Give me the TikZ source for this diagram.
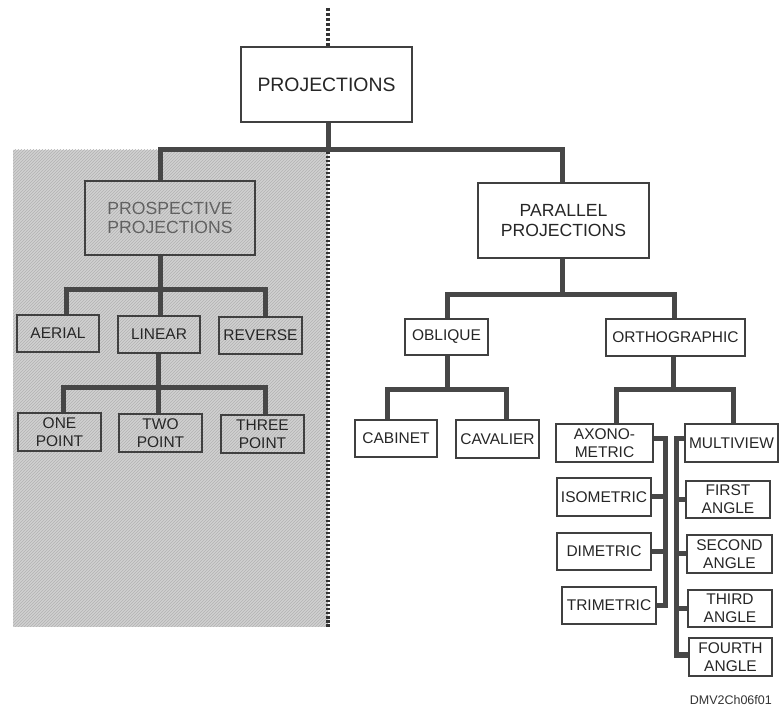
\documentclass[tikz,border=0pt]{standalone}
\usepackage{fontspec}
\setmainfont{Liberation Sans}
\usetikzlibrary{patterns}
\tikzset{
  box/.style={draw=black!75, line width=1.8pt, inner sep=0pt, align=center, text=black!85,
    font=\fontsize{15.5}{18}\selectfont},
  bigbox/.style={box, font=\fontsize{17.6}{19.5}\selectfont},
  wbox/.style={box, fill=white},
  conn/.style={draw=black!72, line width=5pt, line join=miter},
  dotline/.style={draw=black!80, line width=4pt, dash pattern=on 2.5pt off 1.5pt},
}
\begin{document}
\begin{tikzpicture}[x=1pt,y=-1pt]
\useasboundingbox (0,0) rectangle (780,708);
% shaded region
\fill[black!18] (13,150) rectangle (328,627);
\fill[pattern=north east lines, pattern color=black!30] (13,150) rectangle (328,627);
\coordinate (e1) at (328,152);
\coordinate (e2) at (328,627);
\draw[dotline] (e1) -- (e2);

% coordinates of junctions
\coordinate (top) at (328,8);
\coordinate (j1) at (328,150);
\coordinate (a1) at (160,150);
\coordinate (a2) at (562,150);
\coordinate (b0) at (160,290);
\coordinate (bL) at (66,290);
\coordinate (bR) at (265,290);
\coordinate (l0) at (158,388);
\coordinate (lL) at (63,388);
\coordinate (lR) at (265,388);
\coordinate (p0) at (562,295);
\coordinate (pL) at (447,295);
\coordinate (pR) at (674,295);
\coordinate (o0) at (447,390);
\coordinate (oL) at (387,390);
\coordinate (oR) at (506,390);
\coordinate (r0) at (673,390);
\coordinate (rL) at (616,390);
\coordinate (rR) at (733,390);
\coordinate (c1) at (665,439);
\coordinate (c4) at (665,606);
\coordinate (m1) at (676,439);
\coordinate (m5) at (676,655);

% nodes
\node[box, bigbox, fill=white, minimum width=171, minimum height=75, font=\fontsize{19.4}{21}\selectfont] (proj) at (326.5,84.5) {PROJECTIONS};
\node[box, bigbox, text=black!62, minimum width=170, minimum height=74] (pros) at (170,218) {PROSPECTIVE\\PROJECTIONS};
\node[box, bigbox, fill=white, minimum width=171, minimum height=75] (par) at (563.5,220.5) {PARALLEL\\PROJECTIONS};

\node[box, minimum width=82, minimum height=37] (aerial) at (58,333.5) {AERIAL};
\node[box, minimum width=82, minimum height=37] (linear) at (159,334.5) {LINEAR};
\node[box, minimum width=83, minimum height=37] (reverse) at (260.5,335.5) {REVERSE};
\node[box, minimum width=83, minimum height=38] (one) at (59.5,432) {ONE\\POINT};
\node[box, minimum width=83, minimum height=38] (two) at (160.5,433) {TWO\\POINT};
\node[box, minimum width=83, minimum height=38] (three) at (262.5,434) {THREE\\POINT};

\node[wbox, minimum width=83, minimum height=36] (oblique) at (446.5,337) {OBLIQUE};
\node[wbox, minimum width=139, minimum height=37] (ortho) at (675.5,337.5) {ORTHOGRAPHIC};
\node[wbox, minimum width=82, minimum height=37] (cabinet) at (396,438.5) {CABINET};
\node[wbox, minimum width=83, minimum height=38] (cavalier) at (497.5,439) {CAVALIER};
\node[wbox, minimum width=97, minimum height=38] (axono) at (604.5,443) {AXONO-\\METRIC};
\node[wbox, minimum width=93, minimum height=38] (multi) at (731.5,443) {MULTIVIEW};
\node[wbox, minimum width=94, minimum height=38] (iso) at (604,497) {ISOMETRIC};
\node[wbox, minimum width=94, minimum height=37] (dim) at (604,551.5) {DIMETRIC};
\node[wbox, minimum width=94, minimum height=37] (tri) at (609,605.5) {TRIMETRIC};
\node[wbox, minimum width=84, minimum height=37] (first) at (728,499.5) {FIRST\\ANGLE};
\node[wbox, minimum width=85, minimum height=38] (second) at (729.5,554) {SECOND\\ANGLE};
\node[wbox, minimum width=84, minimum height=37] (third) at (730,608.5) {THIRD\\ANGLE};
\node[wbox, minimum width=83, minimum height=38] (fourth) at (730.5,657) {FOURTH\\ANGLE};

\node[anchor=east, inner sep=0pt, text=black!80, font=\fontsize{12.5}{14}\selectfont] (code) at (772,700) {DMV2Ch06f01};

% connectors
\draw[dotline, dash pattern=on 3pt off 2pt, line width=3.5pt] (top) -- (proj.north -| top);
\draw[conn] (proj.south -| j1) -- (j1);
\draw[conn] (a1 |- pros.north) -- (a1) -- (a2) -- (a2 |- par.north);

\draw[conn] (b0 |- pros.south) -- (b0) -- (b0 |- linear.north);
\draw[conn] (bL |- aerial.north) -- (bL) -- (bR) -- (bR |- reverse.north);

\draw[conn] (l0 |- linear.south) -- (l0) -- (l0 |- two.north);
\draw[conn] (lL |- one.north) -- (lL) -- (lR) -- (lR |- three.north);

\draw[conn] (p0 |- par.south) -- (p0);
\draw[conn] (pL |- oblique.north) -- (pL) -- (pR) -- (pR |- ortho.north);

\draw[conn] (o0 |- oblique.south) -- (o0);
\draw[conn] (oL |- cabinet.north) -- (oL) -- (oR) -- (oR |- cavalier.north);

\draw[conn] (r0 |- ortho.south) -- (r0);
\draw[conn] (rL |- axono.north) -- (rL) -- (rR) -- (rR |- multi.north);

\draw[conn] (axono.east |- c1) -- (c1) -- (c4) -- (tri.east |- c4);
\draw[conn] (iso.east) -- (iso.east -| c1);
\draw[conn] (dim.east) -- (dim.east -| c1);

\draw[conn] (multi.west |- m1) -- (m1) -- (m5) -- (fourth.west |- m5);
\draw[conn] (first.west) -- (first.west -| m1);
\draw[conn] (second.west) -- (second.west -| m1);
\draw[conn] (third.west) -- (third.west -| m1);
\end{tikzpicture}
\end{document}
